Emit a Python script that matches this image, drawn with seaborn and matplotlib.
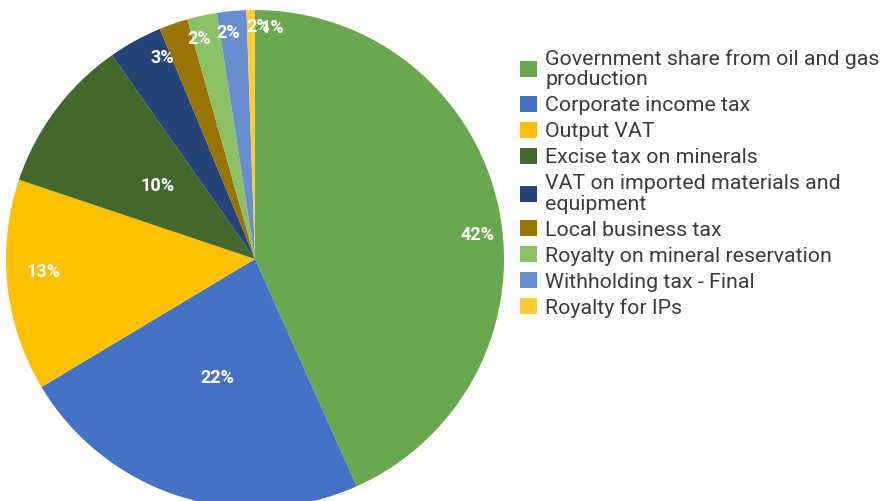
import matplotlib.pyplot as plt
import numpy as np
import seaborn as sns
from matplotlib.patches import Patch

# revenue categories and their shares
categories = ['Government share from oil and gas\nproduction',
              'Corporate income tax',
              'Output VAT',
              'Excise tax on minerals',
              'VAT on imported materials and\nequipment',
              'Local business tax',
              'Royalty on mineral reservation',
              'Withholding tax - Final',
              'Royalty for IPs']
shares = [43.3, 23.1, 13.75, 10.1, 3.5, 1.86, 1.93, 1.9, 0.55]
pct_labels = ['42%', '22%', '13%', '10%', '3%', '2%', '2%', '2%', '1%']
colors = ['#6aa84f', '#4472c4', '#ffc000', '#43682b', '#264478',
          '#9a7400', '#8cc168', '#698ed0', '#ffcd33']

# where the % labels sit: fraction of radius, clockwise nudge in degrees
label_r = [0.90, 0.50, 0.85, 0.49, 0.89, 0.91, 0.915, 0.93, 0.93]
label_shift = [6, 0, 2.7, 0, 4, 4.8, 5.5, 6.3, 5.3]

sns.set_theme(style='white')
plt.rcParams['font.family'] = ['Roboto', 'DejaVu Sans']

fig = plt.figure(figsize=(8.81, 5.01), dpi=100)
ax = fig.add_axes([0.00681, -0.01397, 0.5653, 0.994])

wedges, _ = ax.pie(shares, colors=colors, startangle=90, counterclock=False,
                   radius=1, wedgeprops=dict(linewidth=0))
ax.set_xlim(-1, 1)
ax.set_ylim(-1, 1)
ax.set_aspect('equal')
ax.axis('off')

for w, txt, r, sh in zip(wedges, pct_labels, label_r, label_shift):
    ang = np.deg2rad((w.theta1 + w.theta2) / 2 - sh)
    ax.text(r * np.cos(ang), r * np.sin(ang), txt, ha='center', va='center',
            color='white', fontsize=13, fontweight='bold')

handles = [Patch(facecolor=c, edgecolor='none') for c in colors]
leg = fig.legend(handles, categories, loc='upper left',
                 bbox_to_anchor=(520 / 881, 1 - 49 / 501), frameon=False,
                 fontsize=15.4, labelcolor='#3c3c3c', borderpad=0,
                 borderaxespad=0, handlelength=0.8, handleheight=0.8,
                 handletextpad=0.38, labelspacing=0.3)
for t in leg.get_texts():
    t.set_linespacing(1.12)

fig.savefig('out.png', dpi=100)
